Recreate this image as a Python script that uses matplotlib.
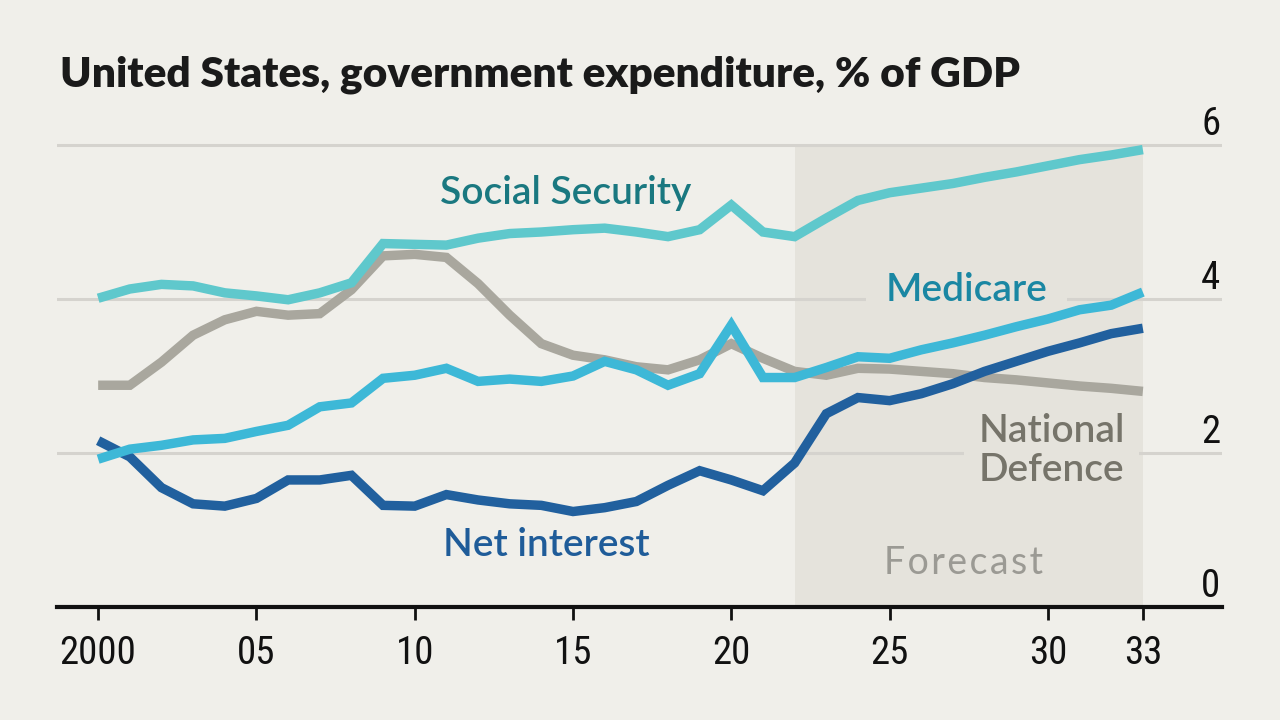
import matplotlib
matplotlib.use("Agg")
import matplotlib.pyplot as plt
from matplotlib import font_manager
import numpy as np

years = list(range(2000, 2034))

social_security = [4.01, 4.13, 4.19, 4.17, 4.08, 4.04, 3.99, 4.08, 4.21, 4.72, 4.71, 4.70,
                   4.79, 4.85, 4.87, 4.90, 4.92, 4.87, 4.81, 4.90, 5.22, 4.87, 4.81,
                   5.05, 5.28, 5.38, 5.44, 5.50, 5.58, 5.65, 5.73, 5.81, 5.87, 5.94]

national_defence = [2.88, 2.88, 3.18, 3.53, 3.73, 3.84, 3.79, 3.81, 4.12, 4.56, 4.58, 4.54,
                    4.20, 3.79, 3.42, 3.27, 3.21, 3.12, 3.08, 3.21, 3.42, 3.23, 3.06,
                    3.01, 3.10, 3.09, 3.06, 3.03, 2.98, 2.95, 2.91, 2.87, 2.84, 2.80]

medicare = [1.92, 2.05, 2.10, 2.17, 2.19, 2.28, 2.36, 2.60, 2.65, 2.97, 3.01, 3.10,
            2.93, 2.96, 2.93, 3.00, 3.19, 3.08, 2.88, 3.03, 3.66, 2.98, 2.98,
            3.11, 3.25, 3.23, 3.34, 3.43, 3.53, 3.64, 3.74, 3.86, 3.92, 4.09]

net_interest = [2.16, 1.95, 1.55, 1.34, 1.31, 1.41, 1.65, 1.65, 1.71, 1.32, 1.31, 1.46,
                1.39, 1.34, 1.32, 1.24, 1.29, 1.37, 1.58, 1.77, 1.65, 1.51, 1.87,
                2.51, 2.72, 2.68, 2.77, 2.90, 3.06, 3.19, 3.32, 3.43, 3.55, 3.62]

forecast_start, forecast_end = 2022, 2033
xtick_pos = [2000, 2005, 2010, 2015, 2020, 2025, 2030, 2033]
xtick_lab = ["2000", "05", "10", "15", "20", "25", "30", "33"]
ytick_pos = [0, 2, 4, 6]

BG = "#f0efea"
SHADE = "#e5e3dc"
GRID = "#d5d3ce"
C_SS = "#5fc8cc"
C_MED = "#3db8d7"
C_DEF = "#a9a79e"
C_NI = "#21609e"

installed = {f.name for f in font_manager.fontManager.ttflist}
narrow_choice = None
for cand in ["Liberation Sans Narrow", "Roboto Condensed", "Open Sans Condensed", "DejaVu Sans Condensed"]:
    if cand in installed:
        narrow_choice = cand
        break
NARROW = [narrow_choice, "DejaVu Sans"] if narrow_choice else ["DejaVu Sans"]

fig = plt.figure(figsize=(12.8, 7.2), dpi=100, facecolor=BG)
ax = fig.add_axes([57/1280, 1-607/720, (1222-57)/1280, (607-129.6)/720])
ax.set_facecolor(BG)
ax.set_xlim(1998.7, 2035.5)
ax.set_ylim(0, 6.2)

ax.axvspan(forecast_start, forecast_end, ymin=0, ymax=6/6.2, color=SHADE, zorder=0, lw=0)
for y in ytick_pos[1:]:
    ax.axhline(y, color=GRID, lw=2.2, zorder=1)

lw = 6.8
kw = dict(lw=lw, solid_joinstyle="miter", solid_capstyle="butt")
ax.plot(years, national_defence, color=C_DEF, zorder=3, **kw)
ax.plot(years, net_interest, color=C_NI, zorder=4, **kw)
ax.plot(years, medicare, color=C_MED, zorder=5, **kw)
ax.plot(years, social_security, color=C_SS, zorder=6, **kw)

for s in ["top", "right", "left"]:
    ax.spines[s].set_visible(False)
ax.spines["bottom"].set_linewidth(3)
ax.spines["bottom"].set_color("#111111")
ax.spines["bottom"].set_zorder(10)

ax.set_xticks(xtick_pos)
ax.set_xticklabels(xtick_lab, fontfamily=NARROW, fontsize=28, color="#111111")
ax.tick_params(axis="x", length=9, width=2, color="#111111", pad=11)
ax.set_yticks([])

for y in ytick_pos:
    ax.text(2035.45, y + 0.03, str(y), ha="right", va="bottom",
            fontfamily=NARROW, fontsize=28, color="#111111", zorder=8)

lab_font = ["Lato", "DejaVu Sans"]
ax.text(2010.8, 5.38, "Social Security", color="#1a7880", fontsize=28, fontweight="semibold",
        fontfamily=lab_font, ha="left", va="center", zorder=7)
ax.text(2027.44, 4.12, "Medicare", color="#1a87a3", fontsize=28, fontweight="semibold",
        fontfamily=lab_font, ha="center", va="center", zorder=2,
        bbox=dict(facecolor=SHADE, edgecolor="none", pad=14))
ax.text(2030.12, 2.03, "National\nDefence", color="#76746a", fontsize=28, fontweight="semibold",
        fontfamily=lab_font, ha="center", va="center", zorder=2, linespacing=1.1,
        bbox=dict(facecolor=SHADE, edgecolor="none", pad=10))
ax.text(2010.9, 0.8, "Net interest", color="#1f5c99", fontsize=28, fontweight="semibold",
        fontfamily=lab_font, ha="left", va="center", zorder=7)
ax.text(2027.35, 0.57, "F o r e c a s t".replace(" ", "\u200a"), color="#9b9a94", fontsize=27,
        fontfamily=["Lato", "DejaVu Sans"], ha="center", va="center", zorder=7)

fig.text(60/1280, 1-75/720, "United States, government expenditure, % of GDP",
         fontsize=30.5, fontweight="heavy", fontfamily=["Lato", "DejaVu Sans"],
         color="#1a1a1a", ha="left", va="center")

fig.savefig("out.png", dpi=100, facecolor=BG)
